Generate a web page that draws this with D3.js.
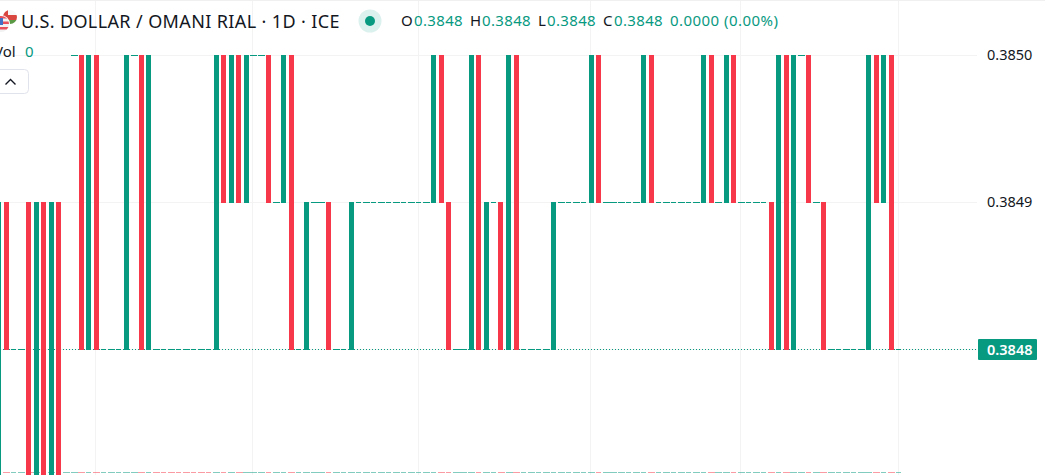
<!DOCTYPE html>
<html>
<head>
<meta charset="utf-8">
<script src="https://cdn.jsdelivr.net/npm/d3@7"></script>
<style>
  html, body { margin: 0; padding: 0; background: #fff; overflow: hidden; }
  text { font-family: "Noto Sans", sans-serif; }
</style>
</head>
<body>
<svg id="chart" width="1045" height="475"></svg>
<script>
// candles, first one sits just off the left edge
var candleIndex = d3.range(-1, 120);

var opens = [
  0.3847, 0.3849, 0.3848, 0.3848, 0.3849, 0.3847, 0.3849, 0.3847, 0.3849, 0.3847,
  0.3850, 0.3850, 0.3848, 0.3850, 0.3848, 0.3848, 0.3848, 0.3848, 0.3850, 0.3850,
  0.3848, 0.3848, 0.3848, 0.3848, 0.3848, 0.3848, 0.3848, 0.3848, 0.3848, 0.3848,
  0.3850, 0.3849, 0.3850, 0.3849, 0.3850, 0.3850, 0.3850, 0.3849, 0.3849, 0.3850,
  0.3848, 0.3848, 0.3849, 0.3849, 0.3849, 0.3848, 0.3848, 0.3848, 0.3849, 0.3849,
  0.3849, 0.3849, 0.3849, 0.3849, 0.3849, 0.3849, 0.3849, 0.3849, 0.3849, 0.3850,
  0.3849, 0.3848, 0.3848, 0.3848, 0.3850, 0.3848, 0.3849, 0.3849, 0.3848, 0.3850,
  0.3848, 0.3848, 0.3848, 0.3848, 0.3848, 0.3849, 0.3849, 0.3849, 0.3849, 0.3849,
  0.3850, 0.3849, 0.3849, 0.3849, 0.3849, 0.3849, 0.3849, 0.3850, 0.3849, 0.3849,
  0.3849, 0.3849, 0.3849, 0.3849, 0.3849, 0.3850, 0.3849, 0.3849, 0.3850, 0.3849,
  0.3849, 0.3849, 0.3849, 0.3849, 0.3848, 0.3850, 0.3848, 0.3850, 0.3850, 0.3849,
  0.3849, 0.3848, 0.3848, 0.3848, 0.3848, 0.3848, 0.3848, 0.3850, 0.3849, 0.3850,
  0.3848
];

var closes = [
  0.3849, 0.3848, 0.3848, 0.3848, 0.3847, 0.3849, 0.3847, 0.3849, 0.3847, 0.3847,
  0.3850, 0.3848, 0.3850, 0.3848, 0.3848, 0.3848, 0.3848, 0.3850, 0.3850, 0.3848,
  0.3850, 0.3848, 0.3848, 0.3848, 0.3848, 0.3848, 0.3848, 0.3848, 0.3848, 0.3850,
  0.3849, 0.3850, 0.3849, 0.3850, 0.3850, 0.3850, 0.3849, 0.3849, 0.3850, 0.3848,
  0.3848, 0.3849, 0.3849, 0.3849, 0.3848, 0.3848, 0.3848, 0.3849, 0.3849, 0.3849,
  0.3849, 0.3849, 0.3849, 0.3849, 0.3849, 0.3849, 0.3849, 0.3849, 0.3850, 0.3849,
  0.3848, 0.3848, 0.3848, 0.3850, 0.3848, 0.3849, 0.3849, 0.3848, 0.3850, 0.3848,
  0.3848, 0.3848, 0.3848, 0.3848, 0.3849, 0.3849, 0.3849, 0.3849, 0.3849, 0.3850,
  0.3849, 0.3849, 0.3849, 0.3849, 0.3849, 0.3849, 0.3850, 0.3849, 0.3849, 0.3849,
  0.3849, 0.3849, 0.3849, 0.3849, 0.3850, 0.3849, 0.3849, 0.3850, 0.3849, 0.3849,
  0.3849, 0.3849, 0.3849, 0.3848, 0.3850, 0.3848, 0.3850, 0.3850, 0.3849, 0.3849,
  0.3848, 0.3848, 0.3848, 0.3848, 0.3848, 0.3848, 0.3850, 0.3849, 0.3850, 0.3848,
  0.3848
];

// zero volume dojis that still print red
var redVolumeDojis = [20, 21, 22, 23, 24, 25, 26, 27];

var priceTicks = [0.3848, 0.3849, 0.3850];
var gridCandles = [12, 33, 55, 78, 98, 119];
var lastPrice = 0.3848;

var titleText = "U.S. DOLLAR / OMANI RIAL \u00b7 1D \u00b7 ICE";
var ohlcLabels = ["O", "H", "L", "C"];
var ohlcValues = ["0.3848", "0.3848", "0.3848", "0.3848"];
var changeText = "0.0000 (0.00%)";

var green = "#089981", red = "#f7374a", ink = "#131722", gridColor = "#f3f3f4";

var svg = d3.select("#chart"),
    plotRight = 977;

var x = d3.scaleLinear().domain([0, 118]).range([6.5, 891.5]),
    y = d3.scaleLinear().domain([0.3848, 0.3850]).range([349, 55]);

function isRed(i) { return closes[i] < opens[i]; }

// grid
svg.append("g").selectAll("rect")
    .data(gridCandles)
    .enter().append("rect")
    .attr("x", function (d) { return Math.floor(x(d)) - 1; })
    .attr("y", 0)
    .attr("width", 1)
    .attr("height", 475)
    .attr("fill", gridColor);

svg.append("g").selectAll("rect")
    .data(priceTicks)
    .enter().append("rect")
    .attr("x", 0)
    .attr("y", function (d) { return y(d); })
    .attr("width", plotRight)
    .attr("height", 1)
    .attr("fill", gridColor);

svg.append("rect").attr("width", 1045).attr("height", 1).attr("fill", "#f0f0f1");

// volume row, all zero so only the flat dashes show
var volumeRow = svg.append("g").attr("opacity", 0.5);
candleIndex.forEach(function (c, i) {
    var cx = x(c), whole = Number.isInteger(cx);
    volumeRow.append("rect")
        .attr("x", Math.floor(cx - 3))
        .attr("y", 472)
        .attr("width", whole ? 5 : 7)
        .attr("height", 1)
        .attr("fill", isRed(i) || redVolumeDojis.indexOf(c) >= 0 ? red : green);
});

// last price dotted line
svg.append("line")
    .attr("x1", 0).attr("x2", plotRight)
    .attr("y1", y(lastPrice) + 0.5).attr("y2", y(lastPrice) + 0.5)
    .attr("stroke", green)
    .attr("stroke-dasharray", "1,2");

// candles
var candles = svg.append("g");
candleIndex.forEach(function (c, i) {
    var cx = x(c), o = opens[i], cl = closes[i];
    if (o === cl) {
        // doji, one pixel dash
        var whole = Number.isInteger(cx);
        candles.append("rect")
            .attr("x", Math.floor(cx - 3))
            .attr("y", y(o))
            .attr("width", whole ? 5 : 7)
            .attr("height", 1)
            .attr("fill", green);
    } else {
        candles.append("rect")
            .attr("x", Math.floor(cx - 2.5))
            .attr("y", y(Math.max(o, cl)))
            .attr("width", 5)
            .attr("height", y(Math.min(o, cl)) - y(Math.max(o, cl)) + 1)
            .attr("fill", cl < o ? red : green);
    }
});

// price axis
var axis = svg.append("g")
    .attr("transform", "translate(987,0)")
    .call(d3.axisRight(y).tickValues(priceTicks.slice(1)).tickSize(0).tickPadding(0).tickFormat(d3.format(".4f")));
axis.select(".domain").remove();
axis.selectAll("text")
    .attr("font-size", 14.5)
    .attr("font-family", '"Noto Sans", sans-serif')
    .attr("fill", ink);

// last price tag
svg.append("rect")
    .attr("x", 978).attr("y", y(lastPrice) - 10)
    .attr("width", 59).attr("height", 21)
    .attr("rx", 1)
    .attr("fill", green);
svg.append("text")
    .attr("x", 987).attr("y", y(lastPrice) + 5.5)
    .attr("font-size", 14.5).attr("font-weight", 600)
    .attr("fill", "#fff")
    .text(d3.format(".4f")(lastPrice));

// symbol flags
svg.append("clipPath").attr("id", "oman").append("circle").attr("cx", 10).attr("cy", 17).attr("r", 7);
var oman = svg.append("g").attr("clip-path", "url(#oman)");
oman.append("rect").attr("x", 3).attr("y", 10).attr("width", 14).attr("height", 5).attr("fill", "#f7f7f7");
oman.append("rect").attr("x", 3).attr("y", 15).attr("width", 14).attr("height", 5).attr("fill", "#d9453f");
oman.append("rect").attr("x", 3).attr("y", 20).attr("width", 14).attr("height", 5).attr("fill", "#5b9a45");
oman.append("rect").attr("x", 3).attr("y", 10).attr("width", 5).attr("height", 15).attr("fill", "#d9453f");

svg.append("circle").attr("cx", 1).attr("cy", 24).attr("r", 9).attr("fill", "#fff");
svg.append("clipPath").attr("id", "usa").append("circle").attr("cx", 1).attr("cy", 24).attr("r", 8);
var usa = svg.append("g").attr("clip-path", "url(#usa)");
usa.append("rect").attr("x", -7).attr("y", 16).attr("width", 16).attr("height", 16).attr("fill", "#f2f2f2");
d3.range(0, 3).forEach(function (n) {
    usa.append("rect").attr("x", -7).attr("y", 16 + n * 5.5).attr("width", 16).attr("height", 2.5).attr("fill", "#e8505b");
});
usa.append("rect").attr("x", -7).attr("y", 18).attr("width", 10).attr("height", 7).attr("fill", "#4170c4");

// header
svg.append("text")
    .attr("x", 21).attr("y", 28)
    .attr("font-size", 18)
    .attr("letter-spacing", 0.38)
    .attr("fill", ink)
    .text(titleText);

svg.append("circle").attr("cx", 370).attr("cy", 21).attr("r", 11.5).attr("fill", "#daf1ed");
svg.append("circle").attr("cx", 370).attr("cy", 21).attr("r", 5).attr("fill", green);

var ohlcX = [401, 470, 538, 603],
    ohlcValueX = [414, 482, 547, 614];
ohlcLabels.forEach(function (label, i) {
    svg.append("text")
        .attr("x", ohlcX[i]).attr("y", 26)
        .attr("font-size", 15)
        .attr("fill", ink)
        .text(label);
    svg.append("text")
        .attr("x", ohlcValueX[i]).attr("y", 26)
        .attr("font-size", 15)
        .attr("letter-spacing", 0.35)
        .attr("fill", green)
        .text(ohlcValues[i]);
});
svg.append("text")
    .attr("x", 670).attr("y", 26)
    .attr("font-size", 15)
    .attr("letter-spacing", 0.45)
    .attr("fill", green)
    .text(changeText);

// volume legend, the V is cut by the window edge
svg.append("text")
    .attr("x", -6).attr("y", 57)
    .attr("font-size", 15)
    .attr("fill", ink)
    .text("Vol");
svg.append("text")
    .attr("x", 25).attr("y", 57)
    .attr("font-size", 15)
    .attr("fill", green)
    .text("0");

// collapse button
svg.append("rect")
    .attr("x", -4.5).attr("y", 69.5)
    .attr("width", 33).attr("height", 24)
    .attr("rx", 4)
    .attr("fill", "#fff")
    .attr("stroke", "#e0e3eb");
svg.append("path")
    .attr("d", "M5.5 84.5L10.5 79.5L15.5 84.5")
    .attr("fill", "none")
    .attr("stroke", ink)
    .attr("stroke-width", 1.4);
</script>
</body>
</html>
